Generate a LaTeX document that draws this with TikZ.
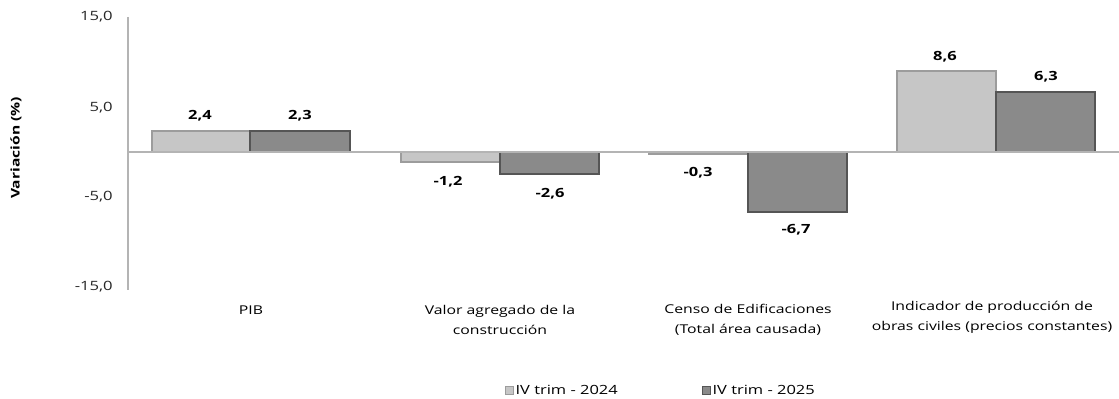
\documentclass[tikz,border=0pt]{standalone}
\usepackage{fontspec}
\setmainfont{Open Sans}[FakeStretch=1.3]
\usepackage{xcolor}
\usepackage{tikz}
\definecolor{baraA}{HTML}{C6C6C6}
\definecolor{baraAedge}{HTML}{9C9C9C}
\definecolor{barbB}{HTML}{8A8A8A}
\definecolor{barbBedge}{HTML}{555555}
\definecolor{axisgray}{HTML}{B4B4B4}
\tikzset{
    yearA/.style={fill=baraA, draw=baraAedge, line width=0.8pt},
    yearB/.style={fill=barbB, draw=barbBedge, line width=0.8pt},
    val/.style={font=\fontsize{9.5}{11}\selectfont\bfseries},
    tick/.style={anchor=east, inner sep=0pt, font=\fontsize{9.6}{11}\selectfont, text=black!85},
    cat/.style={align=center, font=\fontsize{9.1}{15}\selectfont},
    leg/.style={anchor=west, inner sep=1.5pt, font=\fontsize{9.5}{11}\selectfont}
}
\begin{document}
\begin{tikzpicture}[x=0.75pt, y=-0.75pt]
    \useasboundingbox (0,0) rectangle (1119,399);

    \draw[axisgray, line width=0.8pt] (128,17) -- (128,290);

    \draw[yearA] (152,152) rectangle (250,131);
    \draw[yearB] (250,152) rectangle (350,131);
    \draw[yearA] (401,152) rectangle (500,162);
    \draw[yearB] (500,152) rectangle (599,174);
    \draw[yearA] (649,152) rectangle (748,154);
    \draw[yearB] (748,152) rectangle (847,212);
    \draw[yearA] (897,152) rectangle (996,71);
    \draw[yearB] (996,152) rectangle (1095,92);

    \draw[axisgray, line width=0.8pt] (128,152) -- (1119,152);

    \node[tick] (t15) at (113,17) {15,0};
    \node[tick] (t5) at (113,108) {5,0};
    \node[tick] (tm5) at (113,197) {-5,0};
    \node[tick] (tm15) at (113,287) {-15,0};

    \node[rotate=90, font=\fontsize{9}{11}\selectfont\bfseries] (ytitle) at (16,148) {Variación (\%)};

    \node[val] (pibA) at (200,116) {2,4};
    \node[val] (pibB) at (300,116) {2,3};
    \node[val] (valA) at (448,182) {-1,2};
    \node[val] (valB) at (550,194) {-2,6};
    \node[val] (cenA) at (698,173) {-0,3};
    \node[val] (cenB) at (796,230) {-6,7};
    \node[val] (indA) at (945,57) {8,6};
    \node[val] (indB) at (1046,77) {6,3};

    \node[cat] (pib) at (251,310) {PIB};
    \node[cat] (valor) at (500,320) {Valor agregado de la\\construcción};
    \node[cat] (censo) at (748,320) {Censo de Edificaciones\\(Total área causada)};
    \node[cat] (indic) at (992,317) {Indicador de producción de\\obras civiles (precios constantes)};

    \node[yearA, minimum size=6pt, inner sep=0pt, line width=0.5pt] (keyA) at (509,390) {};
    \node[leg] (legA) at (keyA.east) {IV trim - 2024};
    \node[yearB, minimum size=6pt, inner sep=0pt, line width=0.5pt] (keyB) at (706,390) {};
    \node[leg] (legB) at (keyB.east) {IV trim - 2025};
\end{tikzpicture}
\end{document}
